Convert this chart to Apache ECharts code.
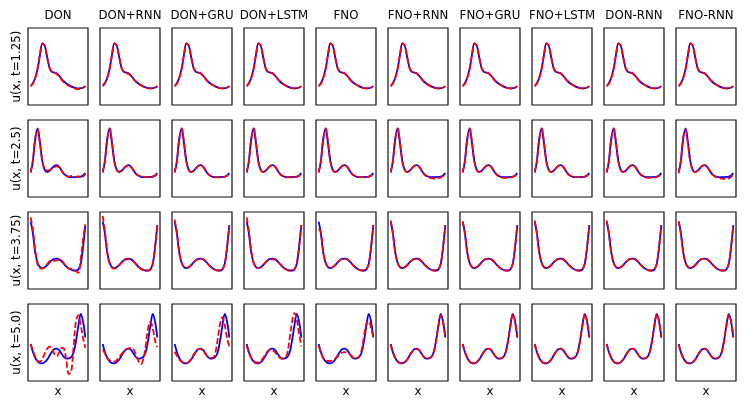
<!DOCTYPE html>
<html>
<head>
<meta charset="utf-8">
<script src="https://cdn.jsdelivr.net/npm/echarts@6/dist/echarts.min.js"></script>
<style>
html,body{margin:0;padding:0;background:#fff;}
#chart{width:748px;height:409px;}
</style>
</head>
<body>
<div id="chart"></div>
<script>
// column titles and row labels
var models=['DON','DON+RNN','DON+GRU','DON+LSTM','FNO','FNO+RNN','FNO+GRU','FNO+LSTM','DON-RNN','FNO-RNN'];
var rowLabels=['u(x, t=1.25)','u(x, t=2.5)','u(x, t=3.75)','u(x, t=5.0)'];

// sample positions along x (fraction of the panel)
var xs=[0.045,0.08,0.12,0.16,0.20,0.24,0.28,0.32,0.36,0.40,0.44,0.48,0.52,0.56,0.60,0.64,0.68,0.72,0.76,0.80,0.84,0.88,0.92,0.955];

// reference solution per time
var truth125=[0.245,0.28,0.35,0.47,0.65,0.80,0.77,0.62,0.48,0.43,0.42,0.41,0.38,0.34,0.305,0.28,0.26,0.242,0.228,0.22,0.216,0.218,0.228,0.245];
var truth250=[0.32,0.46,0.75,0.89,0.70,0.46,0.35,0.325,0.34,0.375,0.405,0.415,0.39,0.345,0.30,0.275,0.262,0.258,0.258,0.258,0.26,0.265,0.28,0.31];
var truth375=[0.875,0.73,0.48,0.34,0.285,0.272,0.285,0.31,0.345,0.375,0.39,0.395,0.385,0.36,0.325,0.29,0.265,0.25,0.24,0.24,0.255,0.33,0.56,0.83];
var truth500=[0.48,0.38,0.30,0.255,0.232,0.23,0.245,0.28,0.33,0.38,0.415,0.42,0.40,0.355,0.31,0.29,0.295,0.31,0.37,0.52,0.72,0.87,0.76,0.565];

// predictions, one row per model (same order as models)
var pred125=[
  [0.245,0.28,0.35,0.48,0.66,0.80,0.76,0.61,0.48,0.43,0.42,0.40,0.37,0.33,0.295,0.27,0.25,0.235,0.22,0.21,0.208,0.212,0.225,0.245],
  [0.25,0.285,0.35,0.47,0.65,0.80,0.77,0.62,0.48,0.43,0.415,0.40,0.375,0.335,0.30,0.275,0.255,0.24,0.225,0.218,0.215,0.22,0.23,0.245],
  [0.245,0.28,0.35,0.47,0.65,0.80,0.77,0.62,0.48,0.43,0.42,0.41,0.38,0.34,0.305,0.28,0.258,0.24,0.226,0.218,0.215,0.218,0.228,0.245],
  [0.245,0.28,0.35,0.47,0.65,0.80,0.77,0.62,0.48,0.43,0.42,0.41,0.38,0.34,0.305,0.278,0.258,0.24,0.226,0.218,0.215,0.218,0.228,0.245],
  [0.245,0.28,0.35,0.47,0.65,0.80,0.77,0.62,0.48,0.43,0.42,0.41,0.38,0.34,0.305,0.28,0.26,0.242,0.228,0.22,0.216,0.218,0.228,0.245],
  [0.245,0.28,0.35,0.47,0.65,0.80,0.77,0.62,0.48,0.43,0.42,0.41,0.38,0.34,0.30,0.275,0.255,0.238,0.225,0.218,0.215,0.218,0.228,0.245],
  [0.245,0.28,0.35,0.47,0.65,0.80,0.77,0.62,0.48,0.43,0.42,0.41,0.38,0.34,0.305,0.28,0.26,0.242,0.226,0.218,0.214,0.216,0.226,0.245],
  [0.245,0.28,0.35,0.47,0.65,0.80,0.77,0.62,0.48,0.43,0.42,0.41,0.38,0.34,0.305,0.28,0.26,0.242,0.228,0.22,0.216,0.218,0.228,0.245],
  [0.245,0.28,0.35,0.47,0.65,0.80,0.77,0.62,0.48,0.43,0.42,0.41,0.38,0.34,0.305,0.28,0.26,0.242,0.228,0.22,0.216,0.218,0.228,0.245],
  [0.245,0.28,0.35,0.47,0.65,0.80,0.77,0.62,0.48,0.43,0.42,0.41,0.38,0.34,0.305,0.28,0.26,0.242,0.228,0.22,0.216,0.218,0.228,0.245]
];
var pred250=[
  [0.32,0.47,0.76,0.88,0.69,0.46,0.36,0.345,0.35,0.37,0.39,0.40,0.38,0.34,0.30,0.27,0.265,0.275,0.27,0.26,0.27,0.255,0.265,0.30],
  [0.32,0.46,0.75,0.89,0.70,0.46,0.35,0.33,0.345,0.375,0.40,0.41,0.385,0.345,0.305,0.28,0.27,0.265,0.26,0.262,0.27,0.265,0.275,0.31],
  [0.32,0.46,0.75,0.89,0.70,0.46,0.35,0.325,0.34,0.375,0.405,0.412,0.39,0.345,0.30,0.272,0.26,0.255,0.255,0.255,0.258,0.263,0.278,0.31],
  [0.32,0.46,0.75,0.89,0.70,0.46,0.35,0.325,0.34,0.375,0.405,0.415,0.39,0.345,0.30,0.272,0.258,0.255,0.255,0.255,0.258,0.263,0.278,0.31],
  [0.32,0.46,0.75,0.89,0.70,0.46,0.35,0.325,0.34,0.375,0.405,0.415,0.39,0.345,0.30,0.275,0.262,0.258,0.258,0.258,0.26,0.265,0.28,0.31],
  [0.32,0.46,0.75,0.89,0.70,0.46,0.35,0.325,0.34,0.375,0.405,0.415,0.39,0.345,0.30,0.27,0.255,0.245,0.24,0.24,0.245,0.255,0.275,0.31],
  [0.32,0.46,0.75,0.89,0.70,0.46,0.35,0.325,0.34,0.375,0.405,0.415,0.39,0.345,0.30,0.272,0.258,0.25,0.248,0.25,0.255,0.262,0.278,0.31],
  [0.32,0.46,0.75,0.89,0.70,0.46,0.35,0.325,0.34,0.375,0.405,0.415,0.39,0.345,0.30,0.275,0.262,0.258,0.258,0.258,0.26,0.265,0.28,0.31],
  [0.32,0.46,0.75,0.89,0.70,0.46,0.35,0.325,0.34,0.375,0.405,0.415,0.39,0.345,0.30,0.272,0.258,0.25,0.248,0.248,0.252,0.26,0.278,0.31],
  [0.31,0.47,0.78,0.87,0.68,0.45,0.35,0.325,0.34,0.375,0.405,0.415,0.39,0.345,0.30,0.27,0.255,0.245,0.238,0.235,0.235,0.24,0.26,0.30]
];
var pred375=[
  [0.93,0.78,0.50,0.32,0.27,0.265,0.28,0.32,0.36,0.37,0.365,0.37,0.385,0.37,0.33,0.29,0.265,0.26,0.25,0.23,0.21,0.40,0.66,0.84],
  [0.95,0.76,0.48,0.33,0.275,0.265,0.28,0.31,0.345,0.37,0.385,0.39,0.38,0.355,0.32,0.285,0.26,0.245,0.24,0.24,0.255,0.33,0.56,0.83],
  [0.90,0.74,0.48,0.34,0.285,0.272,0.285,0.31,0.345,0.375,0.39,0.395,0.385,0.36,0.325,0.29,0.265,0.25,0.24,0.24,0.255,0.33,0.56,0.82],
  [0.93,0.76,0.49,0.34,0.285,0.27,0.285,0.315,0.35,0.375,0.385,0.385,0.38,0.36,0.325,0.29,0.262,0.248,0.24,0.24,0.255,0.33,0.56,0.83],
  [0.78,0.74,0.48,0.34,0.285,0.272,0.285,0.31,0.345,0.375,0.39,0.395,0.385,0.36,0.325,0.29,0.265,0.25,0.24,0.24,0.255,0.33,0.56,0.83],
  [0.89,0.73,0.48,0.34,0.285,0.272,0.285,0.31,0.345,0.375,0.39,0.395,0.385,0.36,0.325,0.29,0.265,0.25,0.24,0.24,0.255,0.33,0.56,0.83],
  [0.88,0.73,0.48,0.34,0.285,0.272,0.285,0.31,0.345,0.375,0.39,0.395,0.385,0.36,0.325,0.29,0.265,0.25,0.24,0.24,0.255,0.33,0.56,0.83],
  [0.89,0.73,0.48,0.34,0.285,0.272,0.285,0.31,0.345,0.375,0.39,0.395,0.385,0.36,0.325,0.29,0.265,0.25,0.24,0.24,0.255,0.33,0.56,0.83],
  [0.89,0.73,0.48,0.34,0.285,0.272,0.285,0.31,0.345,0.375,0.39,0.395,0.385,0.36,0.325,0.29,0.265,0.25,0.24,0.24,0.255,0.33,0.56,0.83],
  [0.88,0.73,0.48,0.34,0.285,0.272,0.285,0.31,0.345,0.375,0.39,0.395,0.385,0.36,0.325,0.29,0.265,0.25,0.24,0.24,0.255,0.33,0.56,0.83]
];
var pred500=[
  [0.48,0.40,0.31,0.26,0.25,0.29,0.36,0.42,0.445,0.42,0.35,0.32,0.37,0.43,0.42,0.26,0.09,0.12,0.45,0.78,0.855,0.72,0.55,0.43],
  [0.41,0.36,0.30,0.27,0.25,0.25,0.27,0.31,0.35,0.39,0.41,0.425,0.43,0.41,0.34,0.26,0.22,0.28,0.45,0.68,0.77,0.68,0.52,0.44],
  [0.38,0.33,0.28,0.25,0.235,0.235,0.25,0.29,0.34,0.385,0.415,0.415,0.39,0.35,0.32,0.30,0.30,0.36,0.53,0.74,0.83,0.72,0.55,0.45],
  [0.46,0.37,0.30,0.26,0.24,0.24,0.26,0.30,0.35,0.39,0.41,0.40,0.37,0.33,0.30,0.29,0.30,0.35,0.55,0.76,0.88,0.80,0.60,0.45],
  [0.46,0.37,0.30,0.27,0.26,0.26,0.27,0.29,0.32,0.35,0.37,0.375,0.37,0.35,0.32,0.30,0.30,0.32,0.40,0.58,0.75,0.78,0.68,0.57],
  [0.47,0.37,0.30,0.255,0.235,0.232,0.245,0.28,0.33,0.375,0.41,0.415,0.40,0.355,0.31,0.29,0.295,0.31,0.37,0.52,0.71,0.85,0.75,0.57],
  [0.48,0.38,0.30,0.255,0.232,0.23,0.245,0.28,0.33,0.38,0.415,0.42,0.40,0.355,0.31,0.29,0.295,0.31,0.37,0.52,0.72,0.87,0.76,0.565],
  [0.48,0.38,0.30,0.255,0.232,0.23,0.245,0.28,0.33,0.38,0.415,0.42,0.40,0.355,0.31,0.29,0.295,0.31,0.37,0.52,0.72,0.87,0.76,0.565],
  [0.48,0.38,0.30,0.255,0.232,0.23,0.245,0.28,0.33,0.38,0.415,0.42,0.40,0.355,0.31,0.29,0.295,0.31,0.37,0.52,0.72,0.87,0.76,0.565],
  [0.47,0.37,0.295,0.25,0.23,0.23,0.245,0.28,0.33,0.38,0.415,0.42,0.40,0.355,0.31,0.29,0.295,0.31,0.37,0.52,0.72,0.86,0.76,0.57]
];

var truths=[truth125,truth250,truth375,truth500];
var preds=[pred125,pred250,pred375,pred500];

var FONT='"DejaVu Sans", sans-serif';
var grids=[],xAxes=[],yAxes=[],series=[],texts=[];

function pairs(ys){
  return xs.map(function(x,k){return [x,ys[k]];});
}

for(var r=0;r<4;r++){
  for(var c=0;c<10;c++){
    var i=r*10+c;
    grids.push({left:28+72*c,top:28+92*r,width:60,height:77,show:true,
      borderColor:'#111',borderWidth:1.2,backgroundColor:'transparent'});
    xAxes.push({type:'value',gridIndex:i,min:0,max:1,show:false});
    yAxes.push({type:'value',gridIndex:i,min:0,max:1,show:false});
    series.push({type:'line',xAxisIndex:i,yAxisIndex:i,data:pairs(truths[r]),
      smooth:0.35,showSymbol:false,lineStyle:{color:'#0000ff',width:1.8}});
    series.push({type:'line',xAxisIndex:i,yAxisIndex:i,data:pairs(preds[r][c]),
      smooth:0.35,showSymbol:false,lineStyle:{color:'#ff0000',width:1.8,type:[6,2.6]}});
  }
}

models.forEach(function(m,c){
  texts.push({type:'text',x:58+72*c,y:16,style:{text:m,font:'11.8px '+FONT,fill:'#000',
    textAlign:'center',textVerticalAlign:'middle'}});
  texts.push({type:'text',x:58+72*c,y:392,style:{text:'x',font:'11.8px '+FONT,fill:'#000',
    textAlign:'center',textVerticalAlign:'middle'}});
});
rowLabels.forEach(function(t,r){
  texts.push({type:'text',x:16.5,y:66.5+92*r,rotation:Math.PI/2,style:{text:t,font:'11.8px '+FONT,fill:'#000',
    textAlign:'center',textVerticalAlign:'middle'}});
});

var chart=echarts.init(document.getElementById('chart'));
chart.setOption({
  animation:false,
  grid:grids,
  xAxis:xAxes,
  yAxis:yAxes,
  series:series,
  graphic:texts
});
</script>
</body>
</html>
